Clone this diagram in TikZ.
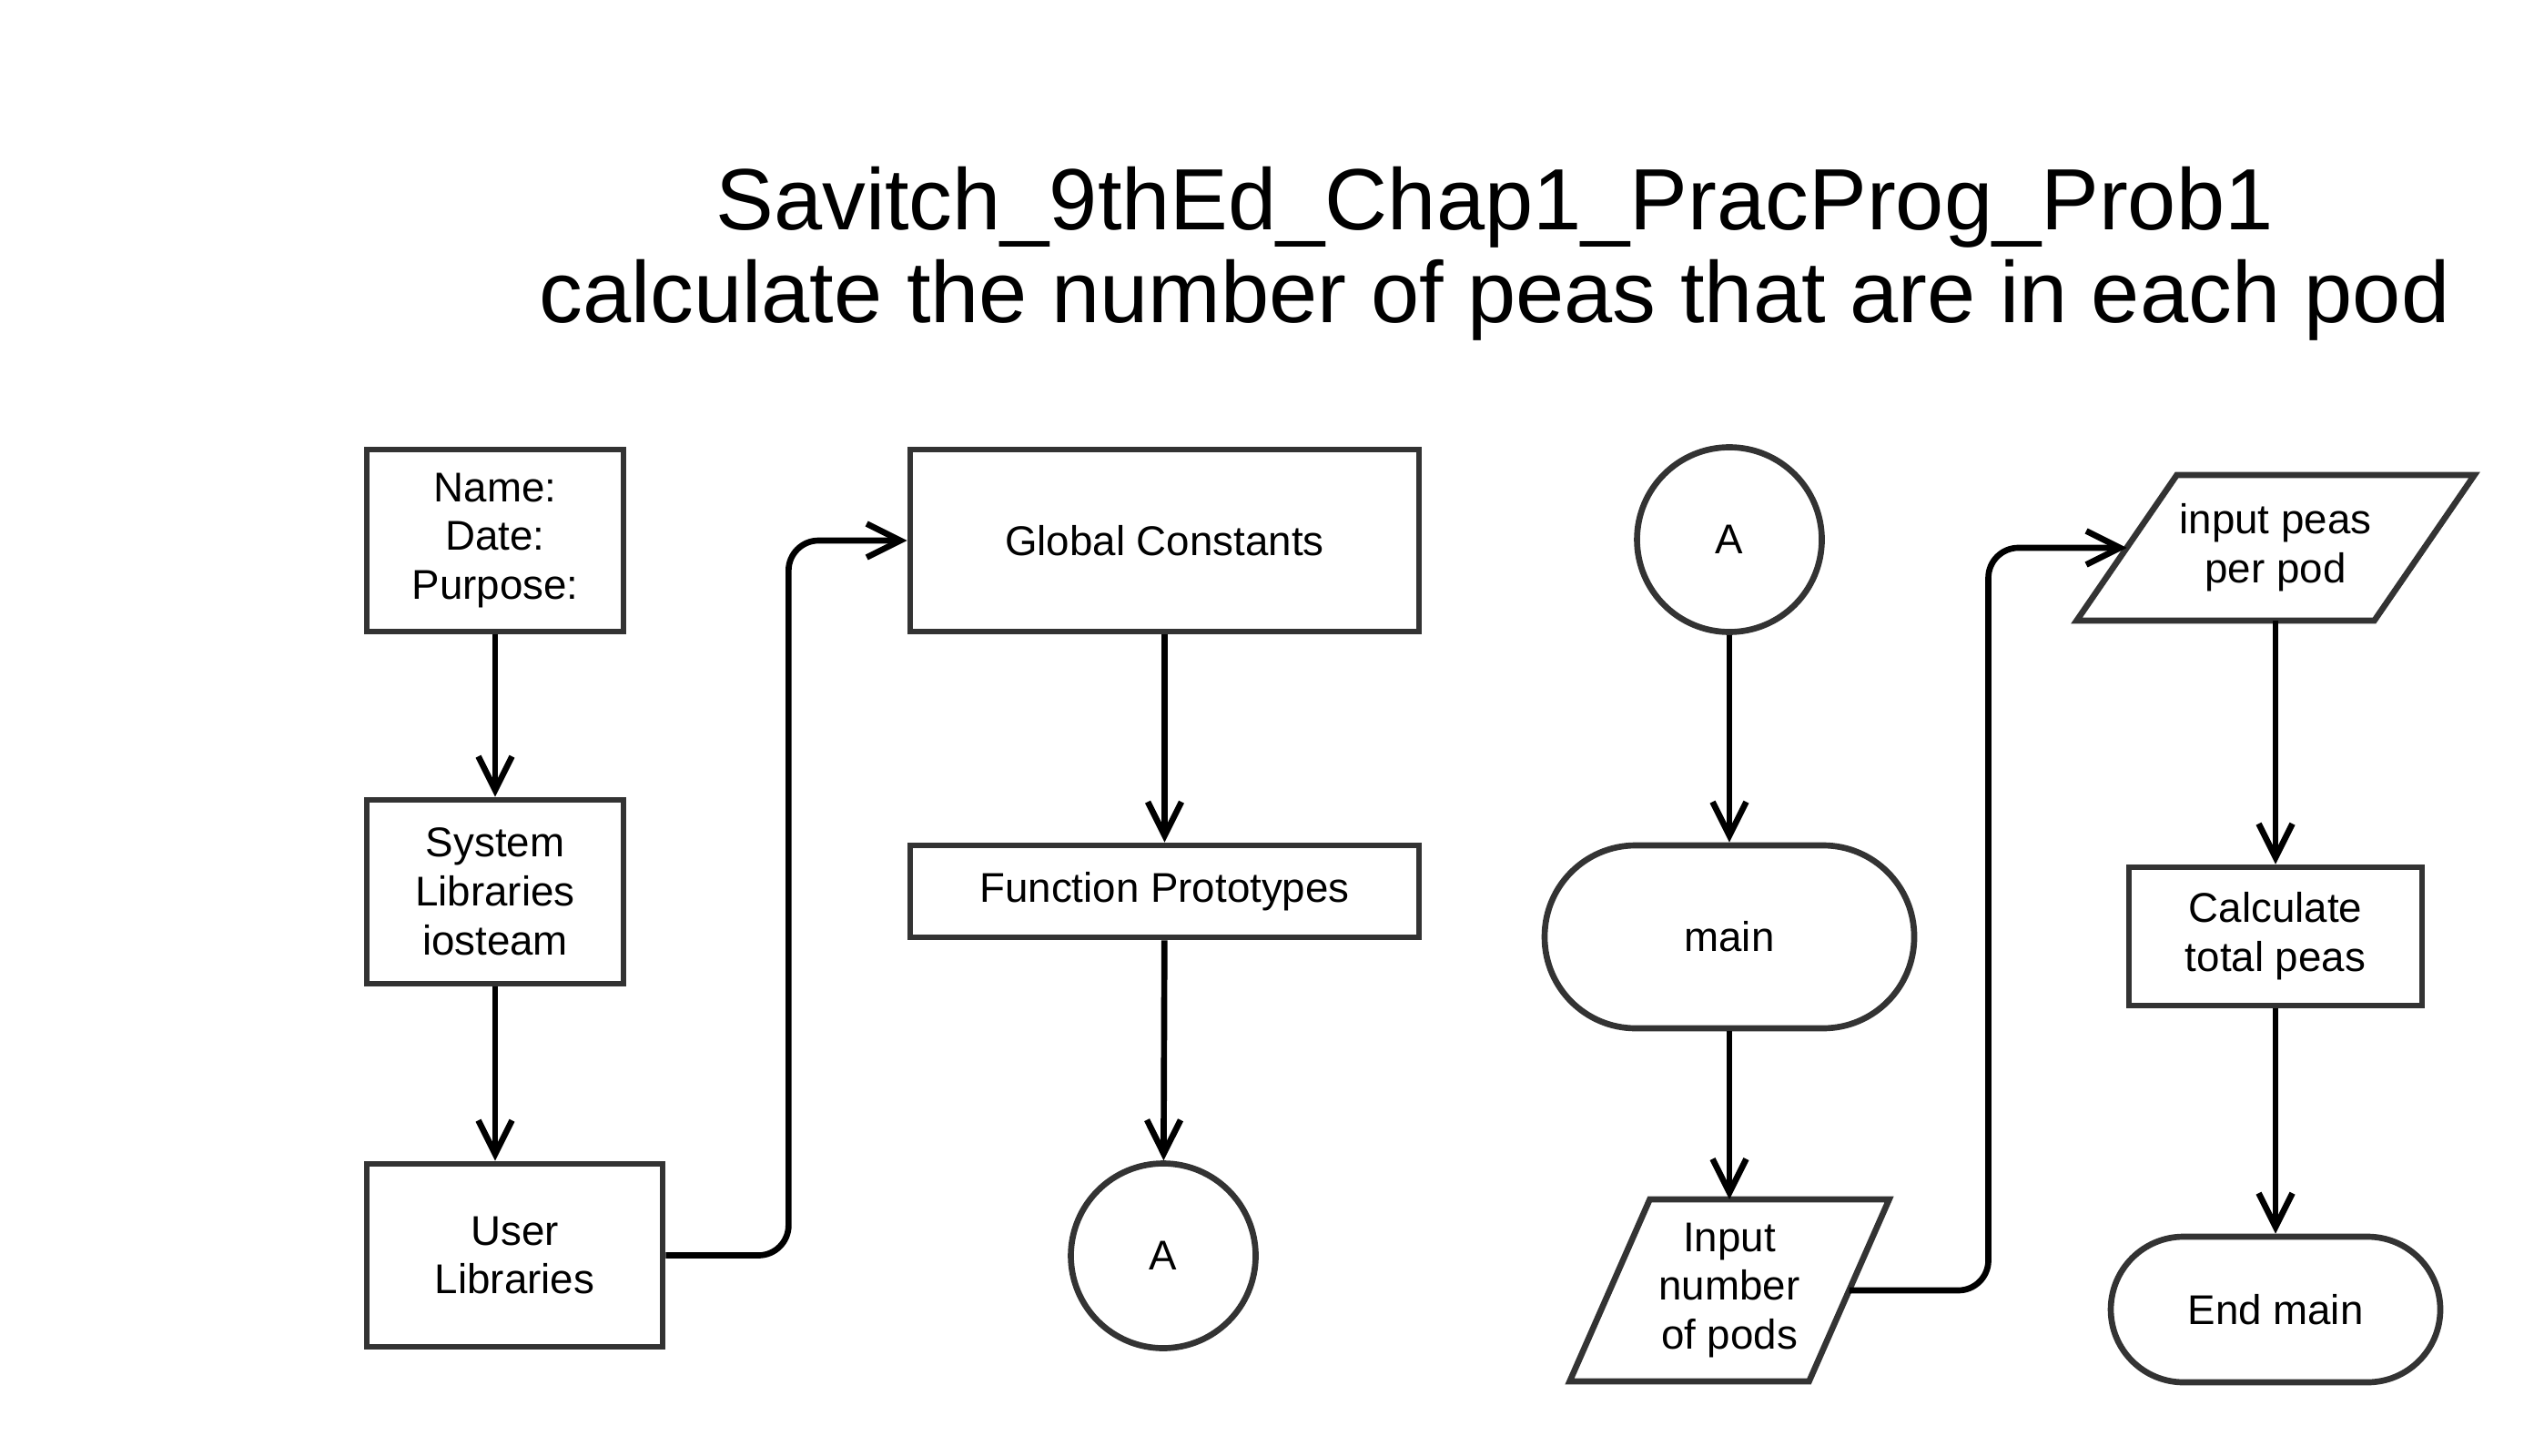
\documentclass[tikz,border=0pt]{standalone}
\usepackage{fontspec}
\setmainfont{Liberation Sans}
\usetikzlibrary{arrows.meta}
\definecolor{edgegray}{HTML}{333333}
\tikzset{>={Straight Barb[length=3.7mm,width=3.7mm]}}
\tikzset{
  shp/.style={draw=edgegray, align=center, font=\fontsize{13}{15.3}\selectfont},
  proc/.style={shp, rectangle},
  term/.style={shp, rectangle},
  conn/.style={shp, circle, minimum size=2.03cm},
  io/.style={shp, draw=none, rectangle, outer sep=0pt},
  ttl/.style={anchor=base, font=\fontsize{27.2}{29}\selectfont}
}

\begin{document}
\begin{tikzpicture}[line width=1.9pt]
\useasboundingbox (0,0) rectangle (27.84,-16);
\node[ttl] (t1) at (16.42,-2.53) {Savitch\_9thEd\_Chap1\_PracProg\_Prob1};
\node[ttl] (t2) at (16.42,-3.55) {calculate the number of peas that are in each pod};
% left column
\node[proc, minimum width=2.82cm, minimum height=2cm] (head) at (5.44,-5.94) {Name:\\Date:\\Purpose:};
\node[proc, minimum width=2.82cm, minimum height=2.02cm] (syslib) at (5.44,-9.80) {System\\Libraries\\iosteam};
\node[proc, minimum width=3.25cm, minimum height=2.01cm] (usrlib) at (5.655,-13.795) {User\\Libraries};
% middle column
\node[proc, minimum width=5.59cm, minimum height=2cm] (glob) at (12.795,-5.94) {Global Constants};
\node[proc, minimum width=5.59cm, minimum height=1.01cm] (proto) at (12.795,-9.795) {Function Prototypes};
\node[conn] (A1) at (12.78,-13.80) {A};
% right part
\node[conn] (A2) at (19.00,-5.93) {A};
\node[term, minimum width=4.06cm, minimum height=2.01cm, rounded corners=1cm] (main) at (19,-10.295) {main};
\node[io, minimum width=2.63cm, minimum height=2cm] (npods) at (19,-14.18) {Input\\number\\of pods};
\node[io, minimum width=3.27cm, minimum height=1.6cm] (peas) at (25,-6.02) {input peas\\per pod};
\node[proc, minimum width=3.22cm, minimum height=1.52cm] (calc) at (25,-10.29) {Calculate\\total peas};
\node[term, minimum width=3.62cm, minimum height=1.6cm, rounded corners=0.8cm] (endm) at (25,-14.39) {End main};
% input parallelograms
\draw[edgegray] ([xshift=-4.4mm]npods.south west) -- ([xshift=-4.4mm]npods.south east)
  -- ([xshift=4.4mm]npods.north east) -- ([xshift=4.4mm]npods.north west) -- cycle;
\draw[edgegray] ([xshift=-5.5mm]peas.south west) -- ([xshift=-5.5mm]peas.south east)
  -- ([xshift=5.5mm]peas.north east) -- ([xshift=5.5mm]peas.north west) -- cycle;
% connectors
\draw[->] (head) -- (syslib);
\draw[->] (syslib.south) -- (syslib.south |- usrlib.north);
\draw[->, rounded corners=3.3mm] (usrlib.east) -- ++(1.35,0) |- (glob.west);
\draw[->] (glob) -- (proto);
\draw[->] (proto) -- (A1);
\draw[->] (A2) -- (main);
\draw[->] (main) -- (npods);
\draw[->, rounded corners=3.3mm] (npods.east) -- ++(1.53,0) |- (peas.west);
\draw[->] (peas) -- (calc);
\draw[->] (calc) -- (endm);
\end{tikzpicture}
\end{document}
